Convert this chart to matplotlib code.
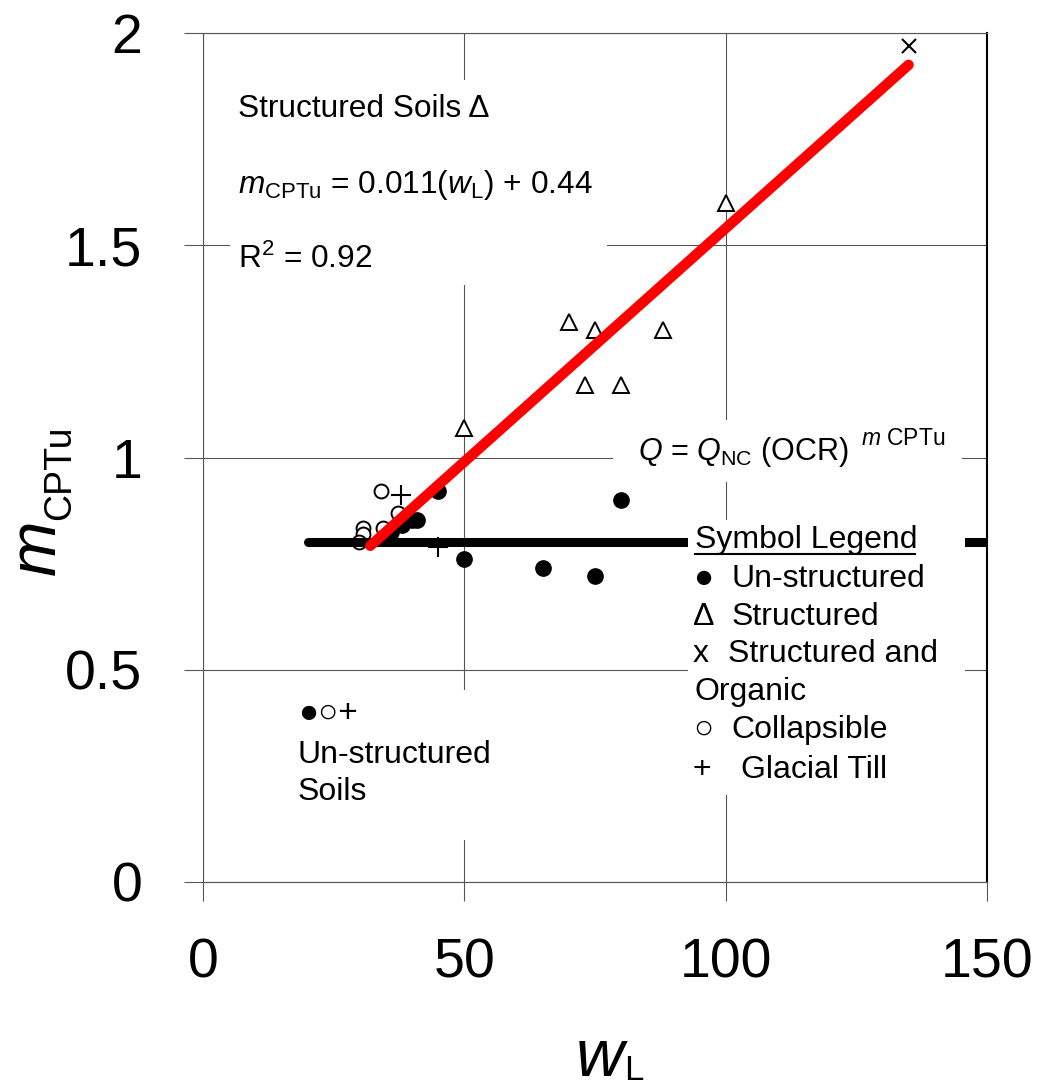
import matplotlib
matplotlib.use('Agg')
import matplotlib.pyplot as plt
from matplotlib.patches import Rectangle
from matplotlib.lines import Line2D

plt.rcParams['font.family'] = ['Liberation Sans', 'DejaVu Sans']
plt.rcParams['mathtext.fontset'] = 'custom'
plt.rcParams['mathtext.rm'] = 'Liberation Sans'
plt.rcParams['mathtext.it'] = 'Liberation Sans:italic'

# --- data (w_L vs m_CPTu) ---
unstr_x = [45, 80, 50, 65, 75, 36, 38, 40, 41]
unstr_y = [0.92, 0.90, 0.76, 0.74, 0.72, 0.825, 0.84, 0.853, 0.853]

struct_x = [50, 70, 75, 88, 73, 80, 100]
struct_y = [1.07, 1.32, 1.30, 1.30, 1.17, 1.17, 1.60]

organic_x = [135]
organic_y = [1.97]

collaps_x = [34, 30.6, 30.6, 29.8, 34.5, 37.3]
collaps_y = [0.92, 0.834, 0.82, 0.80, 0.834, 0.869]

till_x = [37.8, 45]
till_y = [0.912, 0.79]

# regression for structured soils: m = 0.011 wL + 0.44
fit_x = [32, 135]
fit_y = [0.792, 1.925]

# un-structured soils average
base_x = [20, 150]
base_y = [0.8, 0.8]

xticks = [0, 50, 100, 150]
xtick_labels = ['0', '50', '100', '150']
yticks = [0, 0.5, 1, 1.5, 2]
ytick_labels = ['0', '0.5', '1', '1.5', '2']

W, H = 1042, 1088
GRID = '#555555'


def fx(px):
    return px / W


def fy(py):
    return 1 - py / H


fig = plt.figure(figsize=(W / 100, H / 100), dpi=100)
ax = fig.add_axes([fx(203), fy(882), (987 - 203) / W, (882 - 33) / H])

# markers
ax.plot(unstr_x, unstr_y, 'o', ms=11, color='black', zorder=2.2)
ax.plot(struct_x, struct_y, '^', ms=11.5, mfc='white', mec='black', mew=1.4, zorder=2.2)
ax.plot(organic_x, organic_y, 'x', ms=10, mew=1.5, color='black', zorder=2.2)
ax.plot(collaps_x, collaps_y, 'o', ms=10, mfc='white', mec='black', mew=1.4, zorder=2.2)
ax.plot(till_x, till_y, '+', ms=14, mew=1.5, color='black', zorder=2.2)

# lines
ax.plot(base_x, base_y, color='black', lw=6.5, solid_capstyle='round', zorder=2.5)
ax.plot(fit_x, fit_y, color='red', lw=7.5, solid_capstyle='round', zorder=6)

ax.set_xlim(0, 150)
ax.set_ylim(0, 2)
ax.set_xticks(xticks)
ax.set_xticklabels(xtick_labels)
ax.set_yticks(yticks)
ax.set_yticklabels(ytick_labels)
ax.tick_params(axis='both', direction='out', length=13.7, width=0.8, color=GRID,
               labelsize=40)
ax.tick_params(axis='y', pad=30)
ax.tick_params(axis='x', pad=26)
ax.grid(True, color=GRID, lw=0.8)
for side in ['left', 'bottom', 'top']:
    ax.spines[side].set_color(GRID)
    ax.spines[side].set_linewidth(0.8)
ax.spines['right'].set_color('black')
ax.spines['right'].set_linewidth(1.5)

# white boxes behind text blocks (they hide the grid lines)
for (x0, y0, x1, y1) in [(230, 80, 607, 285), (613, 420, 962, 482),
                         (688, 520, 965, 795), (290, 690, 500, 840)]:
    ax.add_patch(Rectangle((fx(x0), fy(y1)), (x1 - x0) / W, (y1 - y0) / H,
                           transform=fig.transFigure, facecolor='white',
                           edgecolor='none', zorder=3))

# upper-left annotation
fig.text(fx(238), fy(117), 'Structured Soils Δ', fontsize=22.8, va='baseline')
fig.text(fx(238), fy(193), r'$m_{\mathrm{CPTu}}$ = 0.011($w_{\mathrm{L}}$) + 0.44',
         fontsize=22.8, va='baseline')
fig.text(fx(238), fy(268), r'R$^{2}$ = 0.92', fontsize=22.8, va='baseline')

# relation
fig.text(fx(638), fy(460), r'$Q$ = $Q_{\mathrm{NC}}$ (OCR)',
         fontsize=22, va='baseline')
fig.text(fx(861), fy(445), r'$m$ CPTu', fontsize=16.5, va='baseline')

# symbol legend
fig.text(fx(695), fy(548), 'Symbol Legend', fontsize=23, va='baseline')
fig.add_artist(Line2D([fx(695), fx(915)], [fy(554), fy(554)], color='black',
                      lw=1.5, transform=fig.transFigure))
leg_sym = ['●', 'Δ', 'x', '', '○', '+']
leg_lab = ['Un-structured', 'Structured', 'Structured and', 'Organic',
           'Collapsible', 'Glacial Till']
leg_base = [587, 625, 662, 700, 738, 778]
leg_pos = [731, 732, 728, 695, 731, 741]
for s, lab, b, p in zip(leg_sym, leg_lab, leg_base, leg_pos):
    if s:
        size = 24 if s in '●○' else 23
        fig.text(fx(693), fy(b), s, fontsize=size, va='baseline')
    fig.text(fx(p), fy(b), lab, fontsize=23, va='baseline')

# lower-left annotation
fig.text(fx(298), fy(722), '●○+', fontsize=24, va='baseline')
fig.text(fx(298), fy(763), 'Un-structured', fontsize=23, va='baseline')
fig.text(fx(298), fy(800), 'Soils', fontsize=23, va='baseline')

# axis labels
fig.text(fx(55), fy(575), 'm', fontsize=48, style='italic', rotation=90,
         rotation_mode='anchor', ha='left', va='baseline')
fig.text(fx(70), fy(520), 'CPTu', fontsize=27, rotation=90,
         rotation_mode='anchor', ha='left', va='baseline')
fig.text(fx(576), fy(1076), 'w', fontsize=48, style='italic', va='baseline')
fig.text(fx(624), fy(1080), 'L', fontsize=25, va='baseline')

fig.savefig('out.png', dpi=100)
